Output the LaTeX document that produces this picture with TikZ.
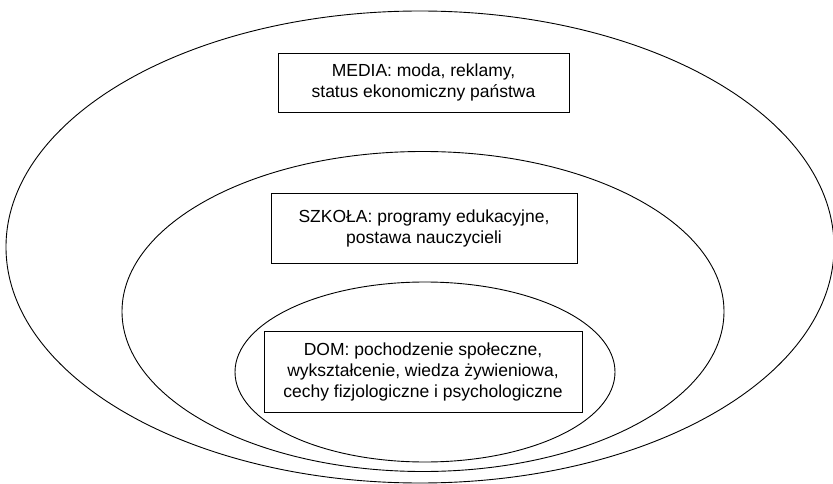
\documentclass[tikz,border=0pt]{standalone}
\usepackage{fontspec}
\setmainfont{Liberation Sans}

\begin{document}
\begin{tikzpicture}[
  x=1pt,y=-1pt,
  font=\fontsize{17.5}{21}\selectfont,
  ring/.style={draw,line width=.9pt},
  label box/.style={draw,line width=.9pt,align=center,inner sep=0pt}
]
\useasboundingbox (0,0) rectangle (833,484);
\clip (0,0) rectangle (833,484);

% nested rings
\draw[ring] (420,247) ellipse [x radius=414pt,y radius=236pt];
\draw[ring] (423,311.5) ellipse [x radius=301pt,y radius=160pt];
\draw[ring] (425,372) ellipse [x radius=190pt,y radius=90pt];

% labels
\node[label box,minimum width=291pt,minimum height=59pt] (media) at (423.5,82.5)
  {MEDIA: moda, reklamy,\\status ekonomiczny państwa};
\node[label box,minimum width=306pt,minimum height=70pt] (szkola) at (424,228)
  {SZKOŁA: programy edukacyjne,\\postawa nauczycieli};
\node[label box,minimum width=318pt,minimum height=81pt] (dom) at (423,371.5)
  {DOM: pochodzenie społeczne,\\wykształcenie, wiedza żywieniowa,\\cechy fizjologiczne i psychologiczne};
\end{tikzpicture}
\end{document}
